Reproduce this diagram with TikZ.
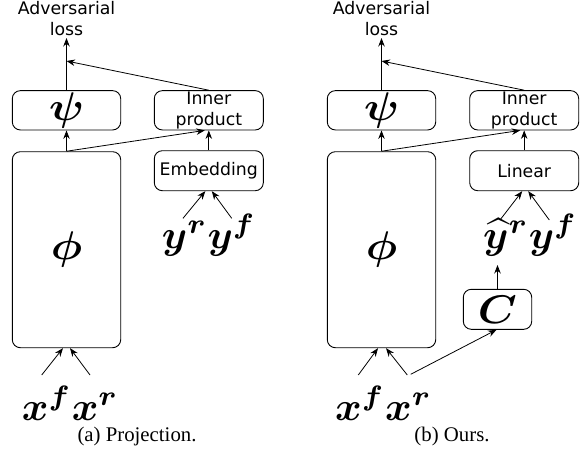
\documentclass[tikz,border=0pt]{standalone}
\usepackage{fontspec}
\usepackage{amsmath,bm,graphicx}
\usetikzlibrary{arrows.meta}
\newfontfamily\dvsans{DejaVu Sans}
\newfontfamily\tmsfont{Liberation Serif}
\newcommand\mbig[1]{\scalebox{4.4}[4.0]{\normalsize$#1$}}
\newcommand\mrow[1]{\scalebox{4.05}[4.0]{\normalsize$#1$}}
\tikzset{
  box/.style={draw, rounded corners=8pt, line width=0.9pt, inner sep=0pt},
  lbl/.style={font=\dvsans\fontsize{17.3}{21.5}\selectfont, align=center},
  arr/.style={-{Stealth[length=8.5pt,width=6.5pt]}, line width=0.8pt},
  mth/.style={anchor=base west, inner sep=0pt},
  captxt/.style={font=\tmsfont\fontsize{20.8}{24}\selectfont, anchor=base, inner sep=0pt}
}
\begin{document}
\begin{tikzpicture}[x=1pt,y=-1pt]
\useasboundingbox (0,0) rectangle (586,450);
% ---------- (a) Projection ----------
\node[lbl, anchor=south, inner sep=2pt] (advL) at (66.5,38) {Adversarial\\loss};
\node[box, minimum width=108.4pt, minimum height=39.3pt] (psiL) at (66.5,110.3) {\mbig{\bm{\psi}}};
\node[box, lbl, minimum width=109pt, minimum height=39.3pt] (ipL) at (208.8,110.3) {Inner\\product};
\node[box, lbl, minimum width=109pt, minimum height=40pt] (embL) at (208.8,170.7) {Embedding};
\node[box, minimum width=108.4pt, minimum height=196pt] (phiL) at (66.5,249.7) {\mbig{\bm{\phi}}};
\node[mth] (yL) at (161.7,248) {\mrow{\bm{y}^{\bm{r}}\bm{y}^{\bm{f}}}};
\node[mth] (xL) at (21.7,420) {\mrow{\bm{x}^{\bm{f}}\bm{x}^{\bm{r}}}};
\node[captxt] (capL) at (137,441) {(a) Projection.};
\coordinate (mL) at (66.5,61);
\coordinate (yrLs) at (183,218.3);
\coordinate (yfLs) at (231.7,218.3);
\coordinate (xfLs) at (41.7,375);
\coordinate (xrLs) at (90,375);
\draw[arr] (psiL.north) -- (advL.south);
\draw[arr] (ipL.north) -- (mL);
\draw[arr] (phiL.north) -- (psiL.south);
\draw[arr] (phiL.north) -- ([xshift=-4pt]ipL.south);
\draw[arr] (embL.north) -- (ipL.south);
\draw[arr] (yrLs) -- ([xshift=-3.5pt]embL.south);
\draw[arr] (yfLs) -- ([xshift=3pt]embL.south);
\draw[arr] (xfLs) -- ([xshift=-3.5pt]phiL.south);
\draw[arr] (xrLs) -- ([xshift=3.5pt]phiL.south);
% ---------- (b) Ours ----------
\node[lbl, anchor=south, inner sep=2pt] (advR) at (381.5,38) {Adversarial\\loss};
\node[box, minimum width=108.4pt, minimum height=39.3pt] (psiR) at (381.5,110.3) {\mbig{\bm{\psi}}};
\node[box, lbl, minimum width=109pt, minimum height=39.3pt] (ipR) at (524.2,110.3) {Inner\\product};
\node[box, lbl, minimum width=109pt, minimum height=40pt] (linR) at (524.2,170.7) {Linear};
\node[box, minimum width=108.4pt, minimum height=196pt] (phiR) at (381.5,249.7) {\mbig{\bm{\phi}}};
\node[box, minimum width=68.4pt, minimum height=40pt] (C) at (497.5,309.3) {\mbig{\bm{C}}};
\node[mth] (yR) at (483,248) {\mrow{\bm{\widehat{y}}^{\bm{r}}\bm{y}^{\bm{f}}}};
\node[mth] (xR) at (335,420) {\mrow{\bm{x}^{\bm{f}}\bm{x}^{\bm{r}}}};
\node[captxt] (capR) at (452,441) {(b) Ours.};
\coordinate (mR) at (381.5,61);
\coordinate (yhat) at (497.5,265);
\coordinate (yrRs) at (500,220);
\coordinate (yfRs) at (549.3,220);
\coordinate (xfRs) at (358.3,375);
\coordinate (xrRs) at (407.3,375);
\coordinate (xcRs) at (410.7,374.3);
\draw[arr] (psiR.north) -- (advR.south);
\draw[arr] (ipR.north) -- (mR);
\draw[arr] (phiR.north) -- (psiR.south);
\draw[arr] (phiR.north) -- ([xshift=-4pt]ipR.south);
\draw[arr] (linR.north) -- (ipR.south);
\draw[arr] (yrRs) -- ([xshift=-2pt]linR.south);
\draw[arr] (yfRs) -- ([xshift=4pt]linR.south);
\draw[arr] (C.north) -- (yhat);
\draw[arr] (xfRs) -- ([xshift=-3.5pt]phiR.south);
\draw[arr] (xrRs) -- ([xshift=4.5pt]phiR.south);
\draw[arr] (xcRs) -- ([xshift=-1pt]C.south);
\end{tikzpicture}
\end{document}
